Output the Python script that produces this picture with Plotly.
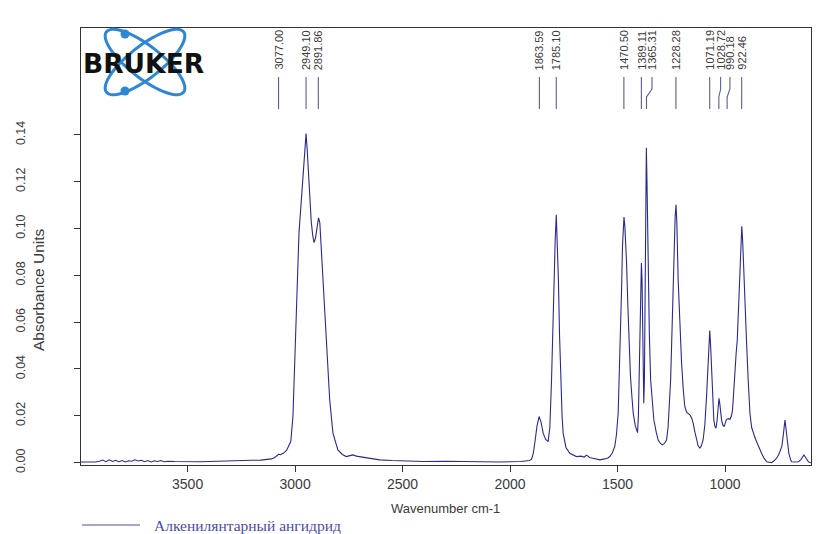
import numpy as np
import plotly.graph_objects as go

# IR absorbance spectrum (wavenumber, cm-1 -> absorbance units)
wavenumber = [
    3996, 3960, 3930, 3910, 3895, 3880, 3865, 3850, 3835, 3820, 3805, 3790, 3775,
    3760, 3745, 3730, 3715, 3700, 3685, 3670, 3655, 3640, 3625, 3610, 3590, 3560,
    3520, 3480, 3440, 3400, 3350, 3300, 3250, 3200, 3160, 3130, 3110, 3095, 3085,
    3077, 3068, 3055, 3040, 3030, 3020, 3010, 3002, 2994, 2982, 2971, 2960, 2953,
    2949, 2944, 2938, 2932, 2925, 2918, 2912, 2905, 2898, 2891, 2885, 2878, 2866,
    2855, 2839, 2824, 2801, 2780, 2762, 2745, 2731, 2715, 2690, 2650, 2607, 2550,
    2500, 2400, 2300, 2200, 2100, 2050, 1950, 1910, 1900, 1892, 1885, 1875, 1865,
    1855, 1846, 1835, 1823, 1815, 1807, 1800, 1796, 1790, 1785, 1780, 1775, 1770,
    1765, 1758, 1753, 1740, 1722, 1705, 1691, 1670, 1655, 1644, 1630, 1610, 1582,
    1560, 1545, 1536, 1525, 1513, 1505, 1497, 1492, 1486, 1481, 1477, 1473, 1470,
    1466, 1462, 1458, 1452, 1446, 1440, 1433, 1427, 1418, 1410, 1407, 1403, 1399,
    1396, 1392, 1389, 1386, 1383, 1380, 1378, 1375, 1372, 1369, 1366, 1363, 1360,
    1357, 1352, 1346, 1338, 1331, 1320, 1311, 1300, 1292, 1282, 1272, 1265, 1258,
    1253, 1247, 1241, 1236, 1232, 1228, 1224, 1218, 1210, 1202, 1194, 1187, 1178,
    1170, 1163, 1155, 1148, 1140, 1132, 1125, 1117, 1110, 1102, 1094, 1086, 1080,
    1075, 1071, 1067, 1061, 1056, 1052, 1047, 1042, 1037, 1032, 1028, 1024, 1020,
    1016, 1010, 1004, 998, 993, 985, 977, 970, 965, 959, 954, 948, 943, 938, 934,
    929, 925, 922, 918, 912, 906, 899, 892, 884, 876, 869, 860, 850, 840, 830, 818,
    806, 795, 783, 772, 760, 750, 742, 736, 730, 725, 721, 717, 713, 710, 703, 695,
    690, 675, 659, 648, 640, 633, 625, 618, 612, 601,
]
absorbance = [
    0.0003, 0.0002, 0.0003, 0.0006, 0.0011, 0.0004, 0.0012, 0.0005, 0.0010, 0.0004,
    0.0009, 0.0003, 0.0008, 0.0006, 0.0012, 0.0007, 0.0010, 0.0004, 0.0009, 0.0003,
    0.0008, 0.0005, 0.0009, 0.0004, 0.0006, 0.0005, 0.0004, 0.0005, 0.0004, 0.0005,
    0.0007, 0.0008, 0.0009, 0.0010, 0.0011, 0.0013, 0.0016, 0.0022, 0.0030, 0.0036,
    0.0034, 0.0040, 0.0052, 0.0068, 0.0090, 0.0197, 0.0410, 0.0695, 0.0980, 0.1120,
    0.1265, 0.1360, 0.1405, 0.1340, 0.1220, 0.1110, 0.1030, 0.0970, 0.0940, 0.0960,
    0.1010, 0.1045, 0.1025, 0.0910, 0.0680, 0.0480, 0.0268, 0.0126, 0.0054, 0.0035,
    0.0026, 0.0030, 0.0033, 0.0028, 0.0024, 0.0018, 0.0012, 0.0009, 0.0007, 0.0005,
    0.0006, 0.0004, 0.0003, 0.0003, 0.0005, 0.0009, 0.0015, 0.0040, 0.0083, 0.0155,
    0.0197, 0.0170, 0.0126, 0.0100, 0.0090, 0.0150, 0.0353, 0.0620, 0.0780, 0.0950,
    0.1059, 0.0950, 0.0780, 0.0550, 0.0353, 0.0200, 0.0126, 0.0065, 0.0040, 0.0032,
    0.0026, 0.0028, 0.0024, 0.0032, 0.0022, 0.0018, 0.0012, 0.0016, 0.0020, 0.0026,
    0.0040, 0.0068, 0.0120, 0.0211, 0.0350, 0.0567, 0.0750, 0.0923, 0.1010, 0.1049,
    0.1010, 0.0940, 0.0852, 0.0670, 0.0496, 0.0370, 0.0280, 0.0211, 0.0160, 0.0135,
    0.0128, 0.0200, 0.0400, 0.0638, 0.0800, 0.0852, 0.0780, 0.0550, 0.0350, 0.0254,
    0.0350, 0.0700, 0.1100, 0.1345, 0.1200, 0.0950, 0.0780, 0.0550, 0.0353, 0.0240,
    0.0182, 0.0130, 0.0097, 0.0082, 0.0076, 0.0082, 0.0097, 0.0150, 0.0250, 0.0353,
    0.0550, 0.0780, 0.0950, 0.1050, 0.1101, 0.1020, 0.0780, 0.0580, 0.0425, 0.0310,
    0.0239, 0.0215, 0.0210, 0.0204, 0.0190, 0.0168, 0.0130, 0.0097, 0.0072, 0.0062,
    0.0072, 0.0097, 0.0160, 0.0282, 0.0420, 0.0520, 0.0564, 0.0500, 0.0353, 0.0240,
    0.0182, 0.0155, 0.0147, 0.0180, 0.0240, 0.0275, 0.0250, 0.0210, 0.0182, 0.0160,
    0.0154, 0.0172, 0.0185, 0.0188, 0.0185, 0.0200, 0.0225, 0.0310, 0.0410, 0.0470,
    0.0524, 0.0650, 0.0780, 0.0910, 0.0990, 0.1009, 0.0950, 0.0780, 0.0630, 0.0496,
    0.0350, 0.0211, 0.0150, 0.0126, 0.0105, 0.0083, 0.0060, 0.0040, 0.0018, 0.0004,
    0.0002, 0.0000, 0.0008, 0.0019, 0.0035, 0.0050, 0.0068, 0.0110, 0.0160, 0.0182,
    0.0150, 0.0110, 0.0083, 0.0040, 0.0012, 0.0004, 0.0003, 0.0004, 0.0012, 0.0025,
    0.0033, 0.0022, 0.0010, 0.0004, 0.0000,
]

# Picked peaks
peak_positions = [3077.00, 2949.10, 2891.86, 1863.59, 1785.10, 1470.50, 1389.11,
                  1365.31, 1228.28, 1071.19, 1028.72, 990.18, 922.46]

x_ticks = [3500, 3000, 2500, 2000, 1500, 1000]
y_ticks = [0.00, 0.02, 0.04, 0.06, 0.08, 0.10, 0.12, 0.14]

series_name = "Алкенилянтарный ангидрид"

# ---- layout geometry (pixels) ----
W, H = 816, 534
ML, MR, MT, MB = 81, 5, 28, 69
PW, PH = W - ML - MR, H - MT - MB
X_RANGE = [3996, 600]
Y_RANGE = [-0.001, 0.1856]

def px_to_paper(px, py):
    return (px - ML) / PW, (H - MB - py) / PH

def wn_per_px():
    return (X_RANGE[0] - X_RANGE[1]) / PW

# labels nudged sideways so crowded labels do not overlap (in pixels, + = right)
label_nudge_px = {1365.31: 5.5, 1028.72: 1.8, 990.18: 2.8}

LINE_COL = "#2a2a8c"
MARK_COL = "#5c5c8c"
TEXT_COL = "#3a3a3a"

fig = go.Figure()
fig.add_trace(go.Scatter(
    x=wavenumber, y=absorbance, mode="lines", name=series_name,
    line=dict(color=LINE_COL, width=1.1), showlegend=False,
))

shapes = []
annotations = []

# peak marker lines and labels
_, y_top = px_to_paper(0, 77)
_, y_b1 = px_to_paper(0, 89)
_, y_b2 = px_to_paper(0, 97)
_, y_bot = px_to_paper(0, 109)
_, y_txt = px_to_paper(0, 72)
for p in peak_positions:
    lx = p - label_nudge_px.get(p, 0.0) * wn_per_px()
    if lx != p:
        path = (f"M {lx},{y_top} L {lx},{y_b1} L {p},{y_b2} L {p},{y_bot}")
    else:
        path = f"M {p},{y_top} L {p},{y_bot}"
    shapes.append(dict(type="path", path=path, xref="x", yref="paper",
                       line=dict(color=MARK_COL, width=1.1)))
    annotations.append(dict(
        x=lx, y=y_txt, xref="x", yref="paper", text=f"{p:.2f}",
        textangle=-90, showarrow=False, xanchor="center", yanchor="bottom",
        font=dict(family="Liberation Sans, Arial", size=11, color=TEXT_COL),
    ))

# BRUKER logo: two crossed orbit ellipses, two dots and the word mark
LOGO_BLUE = "#2e86d6"
cx, cy, a, b = 145, 62, 49, 16
t = np.linspace(0, 2 * np.pi, 73)
for ang in (38, -38):
    th = np.radians(ang)
    ex = cx + a * np.cos(t) * np.cos(th) - b * np.sin(t) * np.sin(th)
    ey = cy + a * np.cos(t) * np.sin(th) + b * np.sin(t) * np.cos(th)
    pts = [px_to_paper(u, v) for u, v in zip(ex, ey)]
    path = "M " + " L ".join(f"{u:.5f},{v:.5f}" for u, v in pts) + " Z"
    shapes.append(dict(type="path", path=path, xref="paper", yref="paper",
                       line=dict(color=LOGO_BLUE, width=3)))
for dx, dy in [(125, 34), (125, 91)]:
    x0, y0 = px_to_paper(dx - 4.5, dy - 4.5)
    x1, y1 = px_to_paper(dx + 4.5, dy + 4.5)
    shapes.append(dict(type="circle", xref="paper", yref="paper",
                       x0=x0, y0=y1, x1=x1, y1=y0,
                       fillcolor=LOGO_BLUE, line=dict(width=0)))
lx_, ly_ = px_to_paper(143.5, 63.5)
annotations.append(dict(
    x=lx_, y=ly_, xref="paper", yref="paper", text="<b>BRUKER</b>",
    showarrow=False, xanchor="center", yanchor="middle",
    font=dict(family="DejaVu Sans", size=26.5, color="#111111"),
))

# axis titles
tx, ty = px_to_paper(445, 508)
annotations.append(dict(x=tx, y=ty, xref="paper", yref="paper",
                        text="Wavenumber cm-1", showarrow=False,
                        xanchor="center", yanchor="middle",
                        font=dict(family="Liberation Sans, Arial", size=13, color=TEXT_COL)))
tx, ty = px_to_paper(38, 290)
annotations.append(dict(x=tx, y=ty, xref="paper", yref="paper",
                        text="Absorbance Units", showarrow=False, textangle=-90,
                        xanchor="center", yanchor="middle",
                        font=dict(family="Liberation Sans, Arial", size=15.5, color=TEXT_COL)))

# series key below the plot
x0, yl = px_to_paper(82, 525)
x1, _ = px_to_paper(140, 525)
shapes.append(dict(type="line", xref="paper", yref="paper", x0=x0, x1=x1,
                   y0=yl, y1=yl, line=dict(color="#4f4fa6", width=1.1)))
kx, ky = px_to_paper(152, 525)
annotations.append(dict(x=kx, y=ky, xref="paper", yref="paper", text=series_name,
                        showarrow=False, xanchor="left", yanchor="middle",
                        font=dict(family="Liberation Serif, Times New Roman",
                                  size=15.5, color="#4b4bab")))

axis_common = dict(showline=True, linecolor="#333333", linewidth=1, mirror=True,
                   showgrid=False, zeroline=False, ticks="outside",
                   tickcolor="#333333", ticklen=6, tickwidth=1)

fig.update_layout(
    width=W, height=H, margin=dict(l=ML, r=MR, t=MT, b=MB),
    paper_bgcolor="white", plot_bgcolor="white",
    xaxis=dict(range=X_RANGE, tickvals=x_ticks,
               ticktext=[str(v) for v in x_ticks],
               tickfont=dict(family="Liberation Sans, Arial", size=14, color=TEXT_COL),
               **axis_common),
    yaxis=dict(range=Y_RANGE, tickvals=y_ticks,
               ticktext=[f"{v:.2f}" for v in y_ticks], tickangle=-90,
               ticklabelstandoff=44,
               tickfont=dict(family="Liberation Sans, Arial", size=12.5, color=TEXT_COL),
               **axis_common),
    shapes=shapes, annotations=annotations,
)

fig.write_html("out.html")
